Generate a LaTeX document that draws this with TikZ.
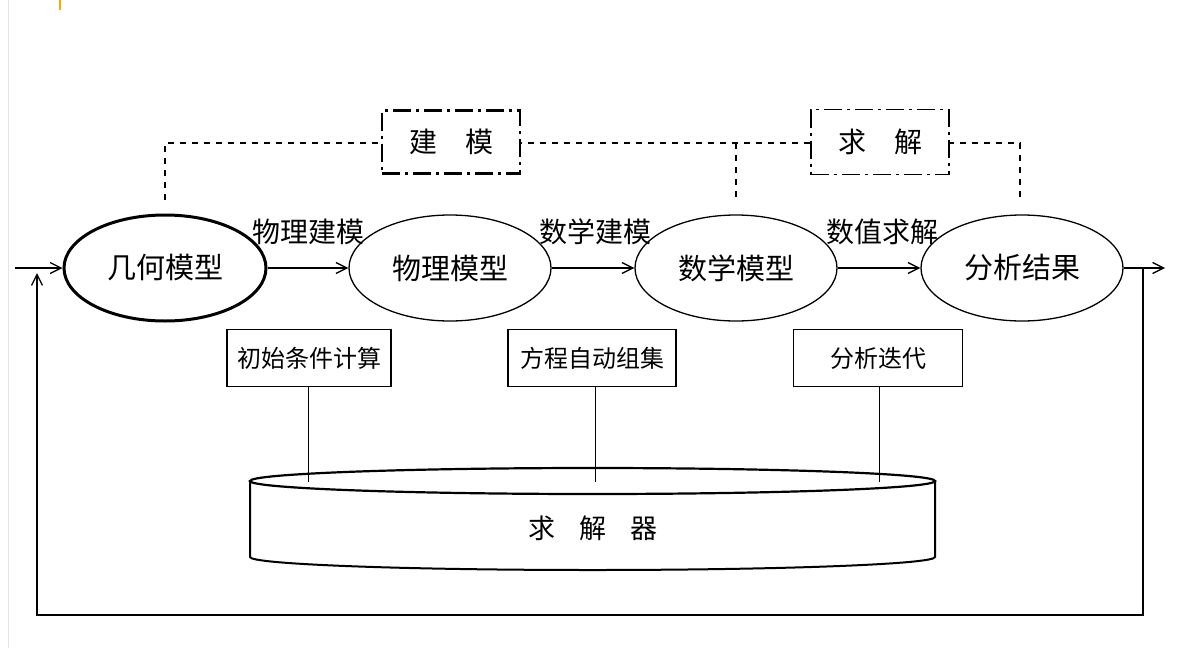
\documentclass[tikz,border=0pt]{standalone}
\usepackage{fontspec}
\setmainfont{Noto Sans CJK SC}
\usetikzlibrary{arrows.meta,shapes.geometric}
\begin{document}
\begin{tikzpicture}[x=1pt,y=-1pt,
  el/.style={draw,ellipse,minimum width=202pt,minimum height=106pt,font=\fontsize{29}{29}\selectfont,inner sep=0pt,line width=1.3pt},
  sb/.style={draw,line width=1.2pt,minimum height=57pt,font=\fontsize{24}{24}\selectfont,inner sep=0pt},
  arr/.style={line width=1.3pt,-{Straight Barb[length=11pt,width=11pt]}},
  dsh/.style={line width=1.2pt,dash pattern=on 6pt off 6pt},
  lab/.style={font=\fontsize{28}{28}\selectfont}]
\useasboundingbox (0,0) rectangle (1190,648);
\fill[white] (0,0) rectangle (1190,648);
\draw[gray!20,line width=1pt] (8,0) -- (8,648);
\draw[orange!70!yellow,line width=1.5pt] (60,0) -- (60,10);
\node[el,line width=3pt] (a) at (165,268) {几何模型};
\node[el] (b) at (450,268) {物理模型};
\node[el] (c) at (736,268) {数学模型};
\node[el] (d) at (1022,268) {分析结果};
\coordinate (in) at (15,268);
\coordinate (out) at (1165,268);
\coordinate (fb1) at (1143,268);
\coordinate (fb2) at (1143,615);
\coordinate (fb3) at (37,615);
\coordinate (fb4) at (37,273);
\draw[arr] (in) -- (a);
\draw[arr] (a) -- (b);
\draw[arr] (b) -- (c);
\draw[arr] (c) -- (d);
\draw[arr] (d) -- (out);
\draw[arr] (fb1) -- (fb2) -- (fb3) -- (fb4);
\node[lab] at (308,232) {物理建模};
\node[lab] at (595,232) {数学建模};
\node[lab] at (882,232) {数值求解};
% dashed frame
\coordinate (p1) at (165,200);
\coordinate (p2) at (165,143);
\coordinate (p3) at (1020,143);
\coordinate (p4) at (1020,200);
\coordinate (p5) at (736,143);
\coordinate (p6) at (736,200);
\draw[dsh] (p1) -- (p2) -- (p3) -- (p4);
\draw[dsh] (p5) -- (p6);
\node[draw,fill=white,line width=2.2pt,dash pattern=on 18pt off 5pt on 3pt off 5pt,minimum width=138pt,minimum height=63pt,lab] (m) at (451,142) {建\hspace{28pt}模};
\node[draw,fill=white,line width=1.2pt,dash pattern=on 18pt off 5pt on 3pt off 5pt,minimum width=138pt,minimum height=65pt,lab] (s) at (880,142) {求\hspace{28pt}解};
% small boxes
\node[sb,minimum width=164pt] (b1) at (309,358) {初始条件计算};
\node[sb,minimum width=168pt] (b2) at (592,358) {方程自动组集};
\node[sb,minimum width=169pt] (b3) at (878,358) {分析迭代};
% cylinder
\draw[line width=2pt,fill=white] (250,481) -- (250,557) arc[start angle=180,end angle=360,x radius=342.5pt,y radius=13pt] -- (935,481);
\draw[line width=2.2pt,fill=white] (592.5,481) ellipse[x radius=342.5pt,y radius=13pt];
\node[font=\fontsize{27}{27}\selectfont] (cy) at (593,528) {求\hspace{24pt}解\hspace{24pt}器};
\coordinate (c1) at (308,482);
\coordinate (c2) at (595,482);
\coordinate (c3) at (879,482);
\draw[line width=1pt] (b1.south -| c1) -- (c1);
\draw[line width=1pt] (b2.south -| c2) -- (c2);
\draw[line width=1pt] (b3.south -| c3) -- (c3);
\end{tikzpicture}
\end{document}
